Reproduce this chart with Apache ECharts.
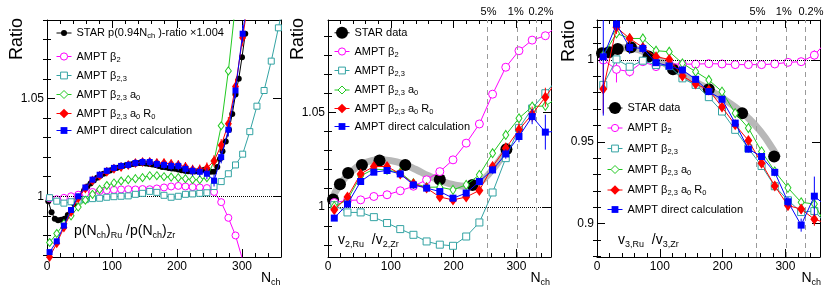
<!DOCTYPE html>
<html><head><meta charset="utf-8">
<script src="https://cdn.jsdelivr.net/npm/echarts@6/dist/echarts.min.js"></script>
<style>html,body{margin:0;padding:0;background:#fff}#c{width:830px;height:299px}</style>
</head><body><div id="c"></div><script>
// ================= DATA =================
// ---- Panel 1 : p(Nch)_Ru / p(Nch)_Zr ----
const p1StarNch = [2,7,12,17,22,27,32,37,42,47,52,57,62,67,72,77,82,87,92,97,102,107,112,117,122,127,132,137,142,147,152,157,162,167,172,177,182,187,192,197,202,207,212,217,222,227,232,237,242,247,252,257,262,266,270,275,280,285,290,295,300,305];
const p1StarVal = [0.9975,0.9918,0.9885,0.9878,0.9880,0.9885,0.9905,0.9930,0.9960,0.9985,1.0010,1.0030,1.0050,1.0065,1.0080,1.0095,1.0105,1.0115,1.0125,1.0132,1.0140,1.0145,1.0150,1.0155,1.0160,1.0162,1.0165,1.0168,1.0170,1.0170,1.0168,1.0165,1.0162,1.0160,1.0155,1.0150,1.0148,1.0145,1.0142,1.0140,1.0137,1.0133,1.0130,1.0128,1.0127,1.0127,1.0128,1.0130,1.0135,1.0130,1.0125,1.0125,1.0150,1.0190,1.0230,1.0280,1.0340,1.0420,1.0520,1.0600,1.0710,1.0830];
const p1AmptNch = [4,15,26,37,48,59,70,81,92,103,114,125,136,147,158,169,180,191,202,213,224,235,246,257,268,279,290,301,312,323,334,345,356,367];
const p1Beta2 = [0.9990,0.9985,0.9992,1.0000,1.0008,1.0015,1.0022,1.0027,1.0030,1.0033,1.0035,1.0036,1.0035,1.0037,1.0036,1.0040,1.0045,1.0050,1.0053,1.0050,1.0047,1.0045,1.0042,1.0022,0.9970,0.9890,0.9800,0.9675];
const p1Beta23 = [0.9993,0.9975,0.9965,0.9972,0.9980,0.9983,0.9988,0.9990,0.9995,0.9998,1.0000,1.0002,1.0010,1.0015,1.0025,1.0020,1.0005,0.9995,1.0000,1.0010,1.0012,1.0015,1.0018,1.0050,1.0075,1.0115,1.0160,1.0215,1.0330,1.0460,1.0540,1.0690,1.0860,1.1030];
const p1Beta23a0 = [0.9764,0.9810,0.9860,0.9900,0.9945,0.9980,1.0010,1.0035,1.0055,1.0068,1.0078,1.0085,1.0090,1.0095,1.0105,1.0105,1.0100,1.0098,1.0095,1.0090,1.0085,1.0085,1.0095,1.0180,1.0360,1.0640,1.0980];
const p1Beta23a0R0 = [0.9690,0.9760,0.9840,0.9920,0.9990,1.0040,1.0080,1.0105,1.0125,1.0140,1.0150,1.0160,1.0170,1.0175,1.0175,1.0170,1.0170,1.0165,1.0160,1.0150,1.0135,1.0135,1.0145,1.0180,1.0260,1.0370,1.0560,1.0810,1.1050];
const p1R0Err = [0.0012,0.0012,0.0012,0.0012,0.0013,0.0014,0.0015,0.0016,0.0017,0.0018,0.0018,0.0019,0.0020,0.0020,0.0021,0.0022,0.0022,0.0023,0.0024,0.0025,0.0026,0.0027,0.0028,0.0030,0.0032,0.0035,0.0040,0.0045,0.0050];
const p1Direct = [0.9715,0.9770,0.9850,0.9930,1.0000,1.0045,1.0085,1.0110,1.0130,1.0145,1.0155,1.0160,1.0170,1.0175,1.0175,1.0165,1.0160,1.0155,1.0155,1.0140,1.0130,1.0125,1.0115,1.0080,1.0200,1.0340,1.0540,1.0830,1.1100];
const p1DirectErr = [0.0012,0.0012,0.0012,0.0012,0.0013,0.0014,0.0015,0.0016,0.0017,0.0018,0.0018,0.0019,0.0020,0.0020,0.0021,0.0022,0.0022,0.0023,0.0024,0.0025,0.0026,0.0027,0.0028,0.0030,0.0032,0.0035,0.0040,0.0045,0.0050];

// ---- Panels 2 and 3 share the AMPT Nch bins ----
const ampBins = [10,31,52,73,94,115,136,157,178,199,220,241,262,283,304,325,346,367];
// Panel 2 : v2,Ru / v2,Zr
const p2StarNch = [8,19,32,54,82,123,178,230,284];
const p2StarVal = [1.0040,1.0120,1.0180,1.0222,1.0245,1.0222,1.0145,1.0117,1.0305];
const p2FitNch = [5,20,40,60,80,100,120,140,160,180,200,220,240,260,280,288];
const p2FitVal = [1.0030,1.0125,1.0195,1.0235,1.0250,1.0245,1.0228,1.0198,1.0165,1.0138,1.0118,1.0110,1.0128,1.0190,1.0280,1.0320];
const p2Beta2 = [1.0024,1.0035,1.0038,1.0056,1.0065,1.0086,1.0110,1.0144,1.0187,1.0249,1.0337,1.0438,1.0595,1.0737,1.0824,1.0880,1.0903,1.0960];
const p2Beta23 = [1.0010,0.9972,0.9972,0.9947,0.9916,0.9884,0.9854,0.9819,0.9802,0.9796,0.9845,0.9919,1.0077,1.0258,1.0416,1.0520,1.0600,1.0680];
const p2Beta23a0 = [1.0005,1.0038,1.0165,1.0200,1.0196,1.0182,1.0126,1.0105,1.0105,1.0091,1.0117,1.0170,1.0284,1.0380,1.0468,1.0530,1.0533,1.0580];
const p2Beta23a0R0 = [0.9986,1.0053,1.0175,1.0214,1.0214,1.0175,1.0123,1.0100,1.0053,1.0038,1.0053,1.0088,1.0214,1.0310,1.0407,1.0490,1.0579,1.0680];
const p2R0Err = [0.0020,0.0018,0.0018,0.0015,0.0015,0.0015,0.0015,0.0015,0.0018,0.0018,0.0020,0.0020,0.0025,0.0030,0.0035,0.0040,0.0050,0.0060];
const p2Direct = [0.9942,1.0016,1.0135,1.0184,1.0193,1.0175,1.0117,1.0100,1.0082,1.0047,1.0074,1.0135,1.0196,1.0280,1.0372,1.0477,1.0395,1.0400];
const p2DirectErr = [0.0015,0.0012,0.0012,0.0010,0.0010,0.0010,0.0010,0.0010,0.0012,0.0012,0.0015,0.0015,0.0020,0.0025,0.0030,0.0040,0.0092,0.0100];
// Panel 3 : v3,Ru / v3,Zr
const p3StarNch = [8,19,33,54,82,121,178,231,282];
const p3StarVal = [1.0041,1.0048,1.0068,1.0078,1.0022,0.9943,0.9821,0.9675,0.9410];
const p3FitNch = [5,20,40,60,80,100,120,140,160,180,200,220,240,260,280,288];
const p3FitVal = [1.0040,1.0062,1.0075,1.0068,1.0040,0.9998,0.9950,0.9905,0.9860,0.9815,0.9765,0.9712,0.9648,0.9565,0.9455,0.9400];
const p3Beta2 = [1.0000,0.9943,0.9929,0.9990,0.9960,0.9976,0.9975,0.9975,0.9978,0.9976,0.9972,0.9972,0.9972,0.9976,0.9986,0.9990,1.0030,1.0120];
const p3Beta2Err = [0.0020,0.0080,0.0030,0.0020,0.0015,0.0010,0.0010,0.0010,0.0010,0.0010,0.0010,0.0010,0.0010,0.0010,0.0012,0.0015,0.0030,0.0040];
const p3Beta23 = [0.9848,1.0004,0.9959,0.9996,0.9970,0.9963,0.9888,0.9848,0.9773,0.9685,0.9573,0.9460,0.9352,0.9228,0.9142,0.9070,0.9076,0.8990];
const p3Beta23a0 = [1.0030,1.0163,1.0132,1.0132,1.0057,1.0051,0.9980,0.9929,0.9878,0.9807,0.9675,0.9584,0.9441,0.9319,0.9218,0.9130,0.9119,0.8970];
const p3Beta23a0R0 = [0.9823,1.0200,1.0132,1.0077,1.0020,1.0004,0.9902,0.9854,0.9817,0.9712,0.9604,0.9508,0.9368,0.9230,0.9110,0.9088,0.9026,0.9000];
const p3R0Err = [0.0150,0.0040,0.0030,0.0025,0.0020,0.0020,0.0020,0.0020,0.0020,0.0020,0.0020,0.0020,0.0020,0.0025,0.0030,0.0030,0.0040,0.0040];
const p3Direct = [1.0020,1.0220,1.0077,1.0071,0.9984,0.9963,0.9939,0.9882,0.9807,0.9760,0.9614,0.9455,0.9410,0.9313,0.9133,0.8990,0.9167,0.9100];
const p3DirectErr = [0.0360,0.0040,0.0040,0.0030,0.0020,0.0020,0.0020,0.0020,0.0020,0.0020,0.0020,0.0020,0.0020,0.0020,0.0030,0.0040,0.0120,0.0120];

// centrality markers (Nch) and their labels
const centNch = [254, 302, 331];
const centLabels = ['5%', '1%', '0.2%'];

// axis ticks
const xMajor = [0,100,200,300];
const xMinor = [20,40,60,80,120,140,160,180,220,240,260,280,320,340];
const y12Major = [1, 1.05];
const y12Minor = [0.97,0.98,0.99,1.01,1.02,1.03,1.04,1.06,1.07,1.08,1.09];
const y3Major = [0.9, 0.95, 1];
const y3Minor = [0.88,0.89,0.91,0.92,0.93,0.94,0.96,0.97,0.98,0.99,1.01,1.02];

// ================= CHART =================
const FONT = "'Liberation Sans', Arial, Helvetica, sans-serif";
const C = {star:'#000000', b2:'#ff00ff', b23:'#33a3a3', a0:'#22c922', r0:'#ff0000', dir:'#0000ff', fit:'#b8b8b8'};

const panels = [
  {left:47,  width:234, xmax:360, ymin:0.969,  ymax:1.090,  yMajor:y12Major, yMinor:y12Minor, legLeft:56,  rows:[34.5,58,77,96,115,132], labDx:null},
  {left:328, width:223, xmax:355, ymin:0.9737, ymax:1.0986, yMajor:y12Major, yMinor:y12Minor, legLeft:334, rows:[34.3,53,72,91.5,110,128], labDx:[1,-2,5]},
  {left:597, width:223, xmax:355, ymin:0.8795, ymax:1.0245, yMajor:y3Major,  yMinor:y3Minor,  legLeft:607, rows:[109.5,129.5,150,171,191.5,211], labDx:[1,-3,6]}
];
const TOP = 20, HEIGHT = 237;

const grid = [], xAxis = [], yAxis = [], series = [], legend = [], graphic = [];

panels.forEach((P, pi) => {
  grid.push({left:P.left, top:TOP, width:P.width, height:HEIGHT, containLabel:false});
  const base = {gridIndex:pi, type:'value', silent:true, splitLine:{show:false}, animation:false};
  const lineOn = {show:true, onZero:false, lineStyle:{color:'#000', width:1}};
  [['bottom', true], ['top', false]].forEach(([pos, lab]) => {
    xAxis.push(Object.assign({}, base, {min:0, max:P.xmax, position:pos, axisLine:lineOn,
      axisTick:{show:true, inside:true, length:8, customValues:xMajor, lineStyle:{color:'#000'}},
      axisLabel:{show:lab, customValues:xMajor, margin:4, fontSize:12, color:'#000', fontFamily:FONT}}));
    xAxis.push(Object.assign({}, base, {min:0, max:P.xmax, position:pos, axisLine:{show:false},
      axisTick:{show:true, inside:true, length:4, customValues:xMinor, lineStyle:{color:'#000'}},
      axisLabel:{show:false}}));
  });
  [['left', true], ['right', false]].forEach(([pos, lab]) => {
    yAxis.push(Object.assign({}, base, {min:P.ymin, max:P.ymax, position:pos, axisLine:lineOn,
      axisTick:{show:true, inside:true, length:8, customValues:P.yMajor, lineStyle:{color:'#000'}},
      axisLabel:{show:lab, customValues:P.yMajor, margin:3, fontSize:12, color:'#000', fontFamily:FONT,
                 formatter: v => String(+v.toFixed(3))}}));
    yAxis.push(Object.assign({}, base, {min:P.ymin, max:P.ymax, position:pos, axisLine:{show:false},
      axisTick:{show:true, inside:true, length:4, customValues:P.yMinor, lineStyle:{color:'#000'}},
      axisLabel:{show:false}}));
  });
});

function pairs(xs, ys){ return ys.map((y, i) => [xs[i], y]); }
function triples(xs, ys, es){ return ys.map((y, i) => [xs[i], y, es[i]]); }

// open = hollow marker (white fill, thin coloured outline)
function lineSeries(pi, name, xs, ys, color, symbol, size, z, open, extra){
  return Object.assign({
    type:'line', name, xAxisIndex:4*pi, yAxisIndex:4*pi, data:pairs(xs, ys),
    symbol, symbolSize:size, z, clip:true, animation:false, silent:true,
    lineStyle:{color, width:1},
    itemStyle: open ? {color:'#ffffff', borderColor:color, borderWidth:1}
                    : {color, borderColor:color, borderWidth:0}
  }, extra || {});
}
function errSeries(pi, xs, ys, es, color, z){
  return {
    type:'custom', xAxisIndex:4*pi, yAxisIndex:4*pi, data:triples(xs, ys, es), z, clip:true,
    silent:true, animation:false,
    renderItem:(params, api) => {
      const x = api.value(0), y = api.value(1), e = api.value(2);
      const a = api.coord([x, y - e]), b = api.coord([x, y + e]);
      return {type:'line', shape:{x1:a[0], y1:a[1], x2:b[0], y2:b[1]}, style:{stroke:color, lineWidth:1}};
    }
  };
}
function refLines(withCent){
  const d = [{yAxis:1, lineStyle:{type:'dotted', color:'#000', width:1}, label:{show:false}}];
  if (withCent) centNch.forEach(v => d.push({xAxis:v,
    lineStyle:{type:[5,4], color:'#9a9a9a', width:1}, label:{show:false}}));
  return {symbol:['none','none'], silent:true, animation:false, data:d};
}

// ---- Panel 1 series ----
series.push(lineSeries(0, 'p1star', p1StarNch, p1StarVal, C.star, 'circle', 6, 3, false, {markLine:refLines(false)}));
series.push(lineSeries(0, 'p1b2', p1AmptNch, p1Beta2, C.b2, 'circle', 7, 4, true));
series.push(lineSeries(0, 'p1b23', p1AmptNch, p1Beta23, C.b23, 'rect', 6, 5, true));
series.push(lineSeries(0, 'p1a0', p1AmptNch, p1Beta23a0, C.a0, 'diamond', [6,8], 6, true));
series.push(errSeries(0, p1AmptNch, p1Beta23a0R0, p1R0Err, C.r0, 7));
series.push(lineSeries(0, 'p1r0', p1AmptNch, p1Beta23a0R0, C.r0, 'diamond', [7,10], 7, false));
series.push(errSeries(0, p1AmptNch, p1Direct, p1DirectErr, C.dir, 8));
series.push(lineSeries(0, 'p1dir', p1AmptNch, p1Direct, C.dir, 'rect', 6, 8, false));

// ---- Panel 2 series ----
series.push(lineSeries(1, 'p2fit', p2FitNch, p2FitVal, C.fit, 'none', 0, 1, false,
  {smooth:true, lineStyle:{color:C.fit, width:7}, markLine:refLines(true)}));
series.push(lineSeries(1, 'p2star', p2StarNch, p2StarVal, C.star, 'circle', 12, 3, false, {lineStyle:{width:0, color:C.star}}));
series.push(lineSeries(1, 'p2b2', ampBins, p2Beta2, C.b2, 'circle', 8, 4, true));
series.push(lineSeries(1, 'p2b23', ampBins, p2Beta23, C.b23, 'rect', 7, 5, true));
series.push(lineSeries(1, 'p2a0', ampBins, p2Beta23a0, C.a0, 'diamond', [6,9], 6, true));
series.push(errSeries(1, ampBins, p2Beta23a0R0, p2R0Err, C.r0, 7));
series.push(lineSeries(1, 'p2r0', ampBins, p2Beta23a0R0, C.r0, 'diamond', [8,11], 7, false));
series.push(errSeries(1, ampBins, p2Direct, p2DirectErr, C.dir, 8));
series.push(lineSeries(1, 'p2dir', ampBins, p2Direct, C.dir, 'rect', 7, 8, false));

// ---- Panel 3 series ----
series.push(lineSeries(2, 'p3fit', p3FitNch, p3FitVal, C.fit, 'none', 0, 1, false,
  {smooth:true, lineStyle:{color:C.fit, width:7}, markLine:refLines(true)}));
series.push(lineSeries(2, 'p3star', p3StarNch, p3StarVal, C.star, 'circle', 12, 3, false, {lineStyle:{width:0, color:C.star}}));
series.push(errSeries(2, ampBins, p3Beta2, p3Beta2Err, C.b2, 4));
series.push(lineSeries(2, 'p3b2', ampBins, p3Beta2, C.b2, 'circle', 8, 4, true));
series.push(lineSeries(2, 'p3b23', ampBins, p3Beta23, C.b23, 'rect', 7, 5, true));
series.push(lineSeries(2, 'p3a0', ampBins, p3Beta23a0, C.a0, 'diamond', [6,9], 6, true));
series.push(errSeries(2, ampBins, p3Beta23a0R0, p3R0Err, C.r0, 7));
series.push(lineSeries(2, 'p3r0', ampBins, p3Beta23a0R0, C.r0, 'diamond', [8,11], 7, false));
series.push(errSeries(2, ampBins, p3Direct, p3DirectErr, C.dir, 8));
series.push(lineSeries(2, 'p3dir', ampBins, p3Direct, C.dir, 'rect', 7, 8, false));

// ---- legends (one per row) ----
const legText = {
  star1:'{t|STAR p(0.94N}{s|ch}{t| )-ratio ×1.004}',
  star:'{t|STAR data}',
  b2:'{t|AMPT β}{s|2}',
  b23:'{t|AMPT β}{s|2,3}',
  a0:'{t|AMPT β}{s|2,3}{t| a}{s|0}',
  r0:'{t|AMPT β}{s|2,3}{t| a}{s|0}{t| R}{s|0}',
  dir:'{t|AMPT direct calculation}'
};
const rich = {
  t:{fontSize:11, lineHeight:14, fontFamily:FONT, color:'#000'},
  s:{fontSize:7.5, lineHeight:5, verticalAlign:'bottom', fontFamily:FONT, color:'#000'}
};
panels.forEach((P, pi) => {
  const p = 'p' + (pi + 1);
  // [series name, text key, icon height, hollow?]
  const rows = [
    [p + 'star', pi === 0 ? 'star1' : 'star', pi === 0 ? 7.5 : 15, false],
    [p + 'b2', 'b2', 9, true], [p + 'b23', 'b23', 8.5, true], [p + 'a0', 'a0', 10, true],
    [p + 'r0', 'r0', 12, false], [p + 'dir', 'dir', 8.5, false]
  ];
  rows.forEach(([name, key, ih, open], ri) => {
    const H = Math.max(ih, 14);
    legend.push({
      left:P.legLeft, top:P.rows[ri] - H / 2, orient:'vertical', padding:0,
      itemWidth:15, itemHeight:ih, selectedMode:false, data:[{name}],
      itemStyle:{borderWidth: open ? 1 : 0},
      lineStyle:{width:1},
      formatter:() => legText[key],
      textStyle:{fontFamily:FONT, fontSize:11, color:'#000', rich}
    });
  });
});

// ---- text annotations ----
function txt(x, y, text, richDef, align, va, rot){
  return {type:'text', x, y, rotation:rot || 0, silent:true, z:100,
    style:{text, rich:richDef, align, verticalAlign:va, fill:'#000', font:'14px ' + FONT}};
}
const bigRich = {
  m:{fontSize:14, lineHeight:18, fontFamily:FONT, color:'#000'},
  s:{fontSize:9, lineHeight:6, verticalAlign:'bottom', fontFamily:FONT, color:'#000'}
};
const nRich = {
  n:{fontSize:14, lineHeight:18, fontFamily:FONT, color:'#000'},
  s:{fontSize:9, lineHeight:6, verticalAlign:'bottom', fontFamily:FONT, color:'#000'}
};
const ratioRich = {r:{fontSize:18, fontFamily:FONT, color:'#000'}};
graphic.push(txt(17.5, 18, '{r|Ratio}', ratioRich, 'right', 'middle', Math.PI / 2));
graphic.push(txt(298.3, 18, '{r|Ratio}', ratioRich, 'right', 'middle', Math.PI / 2));
graphic.push(txt(568.7, 20, '{r|Ratio}', ratioRich, 'right', 'middle', Math.PI / 2));
graphic.push(txt(280.5, 269, '{n|N}{s|ch}', nRich, 'right', 'top'));
graphic.push(txt(550, 269, '{n|N}{s|ch}', nRich, 'right', 'top'));
graphic.push(txt(821, 269, '{n|N}{s|ch}', nRich, 'right', 'top'));
graphic.push(txt(74, 231, '{m|p(N}{s|ch}{m|)}{s|Ru}{m| /p(N}{s|ch}{m|)}{s|Zr}', bigRich, 'left', 'middle'));
graphic.push(txt(338, 240, '{m|v}{s|2,Ru}{m|  /v}{s|2,Zr}', bigRich, 'left', 'middle'));
graphic.push(txt(618, 240, '{m|v}{s|3,Ru}{m|  /v}{s|3,Zr}', bigRich, 'left', 'middle'));

const chart = echarts.init(document.getElementById('c'), null, {renderer:'canvas', width:830, height:299});
chart.setOption({
  animation:false, backgroundColor:'#fff',
  textStyle:{fontFamily:FONT},
  grid, xAxis, yAxis, series, legend, graphic
});

// centrality labels above the dashed lines, positioned through the x axis scale
panels.forEach((P, pi) => {
  if (!P.labDx) return;
  centNch.forEach((v, i) => {
    const px = chart.convertToPixel({xAxisIndex:4*pi}, v) + P.labDx[i];
    graphic.push({type:'text', x:px, y:12, silent:true, z:100,
      style:{text:centLabels[i], align:'center', verticalAlign:'middle', fill:'#000', font:'11px ' + FONT}});
  });
});
chart.setOption({graphic});
</script></body></html>
